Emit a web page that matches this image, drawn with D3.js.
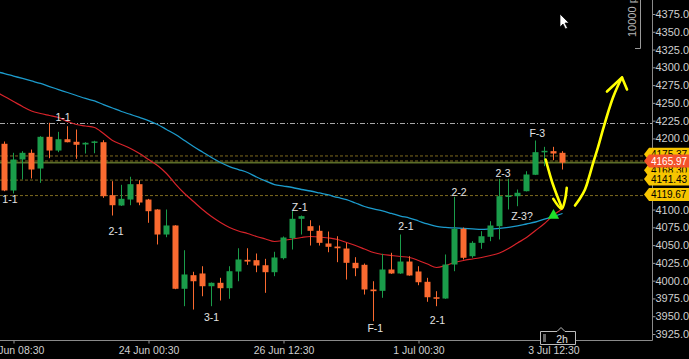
<!DOCTYPE html>
<html><head><meta charset="utf-8">
<script src="https://cdn.jsdelivr.net/npm/d3@7"></script>
<style>html,body{margin:0;padding:0;background:#000;overflow:hidden}</style>
</head><body><svg id="c" width="689" height="359"></svg>
<script>
// ---- data (2h candles, index-based) ----
const openP  = [4192.5,4126.8,4170.4,4179.8,4157.7,4202.3,4183.0,4198.9,4195.3,4191.5,4195.2,4194.7,4120.2,4105.7,4114.1,4135.7,4114.1,4100.1,4064.9,4077.6,3988.6,4007.7,4010.1,3992.2,3997.0,3989.4,4012.9,4029.3,4028.8,4021.7,4011.9,4031.6,4059.7,4087.0,4076.6,4070.1,4052.3,4048.0,4045.2,4025.1,4022.3,3987.6,3985.7,4015.7,4010.1,4026.9,4012.9,3998.4,3976.7,3974.9,4022.7,4072.9,4034.4,4053.2,4061.7,4076.6,4118.0,4118.8,4125.8,4148.9,4180.7,4182.1,4179.8];
const highP  = [4195.7,4179.8,4182.1,4184.4,4203.2,4222.0,4209.3,4217.2,4212.6,4194.7,4196.7,4197.5,4139.9,4134.8,4146.1,4141.3,4115.0,4100.5,4100.1,4078.0,4042.8,4012.5,4020.3,3997.5,4004.0,4020.3,4045.6,4045.6,4038.2,4030.7,4040.6,4062.1,4097.7,4091.6,4085.0,4077.6,4069.1,4062.5,4053.2,4033.0,4024.1,3999.2,4037.8,4039.2,4064.9,4034.4,4020.3,4004.0,3985.2,4036.8,4117.9,4074.7,4055.5,4069.6,4083.6,4143.3,4143.3,4128.2,4153.9,4197.1,4188.2,4188.2,4182.1];
const lowP   = [4125.8,4122.6,4142.3,4143.7,4137.6,4172.2,4180.7,4194.5,4171.4,4178.8,4179.2,4116.5,4091.6,4105.0,4106.1,4106.1,4081.4,4050.9,4061.1,3988.0,3964.1,3959.4,3978.1,3964.1,3972.1,3974.5,3999.2,4022.3,4011.9,3982.9,4006.3,4029.8,4043.8,4064.9,4049.4,4049.4,4040.0,4026.0,4001.6,4006.3,3980.5,3943.0,3975.9,4009.5,4009.5,4007.0,3993.6,3970.3,3964.1,3974.5,4013.3,4029.8,4032.2,4044.8,4055.5,4057.9,4100.1,4104.7,4125.5,4148.5,4161.0,4169.4,4156.3];
const closeP = [4126.8,4170.4,4179.8,4156.3,4202.3,4183.0,4198.9,4194.7,4191.1,4193.9,4195.8,4118.8,4106.1,4115.1,4135.7,4109.9,4097.7,4064.9,4077.6,3988.6,4008.7,3999.2,3992.2,3997.0,3989.4,4013.3,4029.8,4026.9,4021.3,4011.9,4032.6,4060.7,4087.0,4090.7,4070.1,4053.2,4047.6,4045.6,4025.1,4017.5,3987.6,3985.2,4015.7,4010.1,4026.9,4007.3,3997.8,3976.7,3974.5,4022.7,4072.9,4032.2,4053.2,4062.5,4077.6,4118.8,4119.8,4123.6,4149.3,4180.7,4182.6,4178.8,4165.97];

// moving averages, starting one bar before the first visible candle (index -1)
const maFast = [4266.0,4259.0,4252.0,4244.9,4238.6,4235.1,4232.3,4229.5,4223.8,4219.6,4217.5,4215.4,4207.0,4197.1,4191.5,4185.9,4178.8,4170.4,4162.0,4150.7,4135.9,4122.6,4111.3,4100.1,4090.2,4081.8,4074.8,4069.8,4066.3,4062.1,4058.6,4055.1,4056.5,4058.6,4060.7,4062.1,4061.4,4060.0,4057.9,4053.7,4049.4,4044.5,4039.6,4036.8,4035.4,4034.0,4032.6,4028.4,4023.4,4018.5,4021.3,4025.5,4028.4,4030.5,4032.6,4035.4,4038.9,4045.2,4053.0,4060.7,4070.5,4080.4,4092.3,4100.8];
const maSlow = [4294.1,4291.3,4287.8,4284.3,4280.8,4277.3,4273.0,4268.8,4264.6,4260.4,4256.2,4252.7,4247.7,4242.8,4237.9,4233.7,4229.5,4225.2,4219.6,4212.6,4205.5,4197.1,4188.7,4180.9,4173.2,4166.2,4160.5,4156.3,4152.1,4145.8,4140.2,4135.2,4133.1,4131.0,4128.2,4126.1,4123.3,4120.5,4117.0,4114.1,4109.2,4104.3,4100.8,4098.0,4094.5,4090.9,4088.1,4083.9,4079.7,4076.2,4074.8,4074.1,4073.4,4072.7,4072.0,4072.7,4073.4,4074.8,4076.9,4079.7,4082.5,4086.7,4090.2,4094.5];

const xTickIdx    = [1,16,31,46,61];
const xTickLabels = ["23 Jun 08:30","24 Jun 00:30","26 Jun 12:30","1 Jul 00:30","3 Jul 12:30"];
const yTicks = d3.range(3925, 4401, 25);

const annText  = ["1-1","1-1","2-1","3-1","Z-1","F-1","2-1","2-1","2-2","2-3","Z-3?","F-3"];
const annIdx   = [6.5,0.6,12.4,23,32.8,41.2,44.6,48.1,50.5,55.4,57.5,59.2];
const annPrice = [4230.2,4115.5,4070.5,3948.9,4102.9,3934.1,4076.2,3944.0,4124.0,4152.1,4091.6,4207.0];

const signalIdx = [61], signalPrice = [4091.6];

const greyLevel = 4221.0;
const dashLevels = [4175.37, 4168.30, 4141.43, 4119.67];
const lastPrice = 4165.97;
const tagValues = [4175.37, 4168.30, 4141.43, 4119.67, 4165.97];

// hand drawn arrows (index, price)
const arrowDown = [[60.13,4170.4],[60.5,4153.5],[60.94,4135.2],[61.39,4119.8],[61.91,4102.9]];
const arrowDownHead = [[60.98,4115.1],[61.91,4101.1],[62.28,4114.1],[62.47,4130.6]];
const arrowUp = [[63.39,4105.7],[63.94,4115.5],[64.5,4128.2],[64.94,4145.1],[65.39,4164.8],[65.94,4187.3],[66.5,4212.6],[67.06,4236.5],[67.61,4257.6],[68.17,4274.5],[68.61,4285.7]];
const arrowUpHead = [[66.94,4266.0],[68.61,4285.7],[69.17,4268.8]];

// ---- drawing ----
const svg = d3.select("#c");
const FONT = "'Liberation Sans', Arial, sans-serif";
const plotR = 652.5, plotB = 340.5;
const x = d3.scaleLinear().domain([-0.5, 72]).range([0, 652.5]);
const y = d3.scaleLinear().domain([3925, 4375]).range([334, 14]);

svg.append("rect").attr("width",689).attr("height",359).attr("fill","#000");
svg.append("defs").append("clipPath").attr("id","clip")
  .append("rect").attr("x",0).attr("y",0).attr("width",plotR).attr("height",plotB);
const g = svg.append("g").attr("clip-path","url(#clip)");

// level lines
g.append("line").attr("x1",0).attr("x2",plotR).attr("y1",y(greyLevel)).attr("y2",y(greyLevel))
  .attr("stroke","#a8a8a8").attr("stroke-width",1).attr("stroke-dasharray","5,2,1,2");
g.selectAll(".lvl").data(dashLevels).enter().append("line")
  .attr("x1",0).attr("x2",plotR).attr("y1",d=>y(d)).attr("y2",d=>y(d))
  .attr("stroke","#7d6a1f").attr("stroke-width",1).attr("stroke-dasharray","3,2");
g.append("line").attr("x1",0).attr("x2",plotR).attr("y1",y(lastPrice)).attr("y2",y(lastPrice))
  .attr("stroke","#5b6d28").attr("stroke-width",1.6);

// moving averages
const maLine = d3.line().x((d,i)=>x(i-1)).y(d=>y(d)).curve(d3.curveMonotoneX);
g.append("path").datum(maSlow).attr("d",maLine).attr("fill","none").attr("stroke","#1c9bcc").attr("stroke-width",1.3);
g.append("path").datum(maFast).attr("d",maLine).attr("fill","none").attr("stroke","#d8232a").attr("stroke-width",1.2);

// candles
const up = "#1a9c4a", dn = "#fa6a30";
const idx = d3.range(openP.length);
const col = i => closeP[i] >= openP[i] ? up : dn;
g.selectAll(".wick").data(idx).enter().append("line")
  .attr("x1",i=>x(i)).attr("x2",i=>x(i)).attr("y1",i=>y(highP[i])).attr("y2",i=>y(lowP[i]))
  .attr("stroke",col).attr("stroke-width",1);
g.selectAll(".body").data(idx).enter().append("rect")
  .attr("x",i=>x(i)-3).attr("width",6)
  .attr("y",i=>y(Math.max(openP[i],closeP[i])))
  .attr("height",i=>Math.max(1.5, Math.abs(y(openP[i])-y(closeP[i]))))
  .attr("fill",col);

// annotations
g.selectAll(".ann").data(annText).enter().append("text")
  .attr("x",(d,i)=>x(annIdx[i])).attr("y",(d,i)=>y(annPrice[i]))
  .attr("text-anchor","middle").attr("dominant-baseline","central")
  .attr("font-family",FONT).attr("font-size",10.5).attr("fill","#e4e4e4").text(d=>d);

// signal triangle
g.selectAll(".sig").data(signalIdx).enter().append("path")
  .attr("d", d3.symbol().type(d3.symbolTriangle).size(55))
  .attr("transform",(d,i)=>`translate(${x(d)},${y(signalPrice[i])})`)
  .attr("fill","#1ee02a");

// hand drawn yellow arrows
const pl = d3.line().x(d=>x(d[0])).y(d=>y(d[1])).curve(d3.curveCatmullRom);
const pll = d3.line().x(d=>x(d[0])).y(d=>y(d[1]));
[[arrowDown,pl],[arrowDownHead,pl],[arrowUp,pl],[arrowUpHead,pll]].forEach(([pts,fn])=>{
  g.append("path").datum(pts).attr("d",fn).attr("fill","none").attr("stroke","#ffff00")
   .attr("stroke-width",2.6).attr("stroke-linecap","round").attr("stroke-linejoin","round");
});

// axes
const ya = d3.axisRight(y).tickValues(yTicks).tickFormat(d=>d.toFixed(2)).tickSize(3).tickPadding(0).tickSizeOuter(0);
const yg = svg.append("g").attr("transform",`translate(${plotR},0)`).call(ya);
yg.select(".domain").remove();
yg.selectAll("line").attr("stroke","#9a9a9a");
yg.selectAll("text").attr("fill","#cfcfcf").attr("font-family",FONT).attr("font-size",11);

const xa = d3.axisBottom(x).tickValues(xTickIdx).tickFormat((d,i)=>xTickLabels[i]).tickSize(3).tickPadding(3).tickSizeOuter(0);
const xg = svg.append("g").attr("transform",`translate(0,${plotB})`).call(xa);
xg.select(".domain").remove();
xg.selectAll("line").attr("stroke","#9a9a9a");
xg.selectAll("text").attr("fill","#cfcfcf").attr("font-family",FONT).attr("font-size",10.5);

svg.append("line").attr("x1",plotR).attr("x2",plotR).attr("y1",0).attr("y2",plotB).attr("stroke","#8a8a8a");
svg.append("line").attr("x1",0).attr("x2",plotR).attr("y1",plotB).attr("y2",plotB).attr("stroke","#8a8a8a");

// price tags
const tagPos = [154.3, 170.2, 179.1, 194.6, 161.1].map((p,i)=>p - y(tagValues[i]));
tagValues.forEach((v,i)=>{
  const cy = y(v) + tagPos[i];
  const red = (v === lastPrice);
  svg.append("path")
    .attr("d",`M644,${cy} L649,${cy-6.5} L689,${cy-6.5} L689,${cy+6.5} L649,${cy+6.5} Z`)
    .attr("fill", red ? "#f4522a" : "#f7c500");
  svg.append("text").attr("x",651).attr("y",cy).attr("dominant-baseline","central")
    .attr("font-family",FONT).attr("font-size",10).attr("fill", red ? "#ffffff" : "#000")
    .text(v.toFixed(2));
});

// scale bar at top
svg.append("path").attr("d","M640.5,0 V48.5 H635").attr("fill","none").attr("stroke","#9a9a9a");
svg.append("text").attr("transform","translate(636,37) rotate(-90)")
  .attr("font-family",FONT).attr("font-size",11).attr("fill","#b4b4b4").text("10000 p");

// timeframe box
svg.append("path").attr("d","M540.5,344.5 V331.5 H557 L561,327.5 L565,331.5 H575.5 V344.5 Z")
  .attr("fill","#000").attr("stroke","#bdbdbd");
svg.append("rect").attr("x",543).attr("y",334).attr("width",3).attr("height",8).attr("fill","#666");
svg.append("text").attr("x",562).attr("y",338.5).attr("text-anchor","middle").attr("dominant-baseline","central")
  .attr("font-family",FONT).attr("font-size",10.5).attr("fill","#e0e0e0").text("2h");

// mouse cursor
svg.append("path").attr("d","M560,14 L560,27 L563,24 L565.5,29 L567.5,28 L565,23 L569,23 Z")
  .attr("fill","#fff").attr("stroke","#000").attr("stroke-width",0.7);
</script>
</body></html>
